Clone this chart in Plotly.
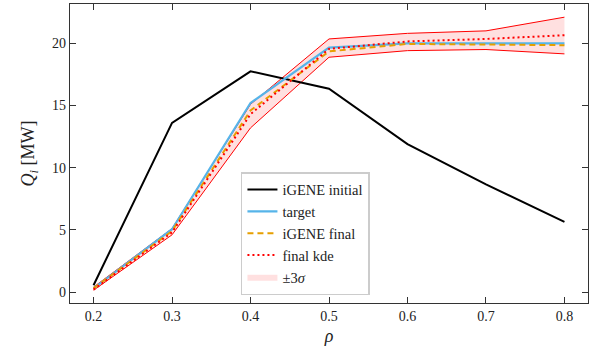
import plotly.graph_objects as go

rho = [0.2, 0.3, 0.4, 0.5, 0.6, 0.7, 0.8]
igene_initial = [0.55, 13.6, 17.75, 16.35, 11.9, 8.65, 5.65]
target = [0.3, 5.05, 15.2, 19.65, 20.0, 20.0, 20.0]
igene_final = [0.3, 4.9, 14.6, 19.35, 19.95, 19.9, 19.85]
final_kde = [0.2, 4.8, 14.3, 19.55, 20.15, 20.35, 20.65]
band_upper = [0.4, 5.1, 15.1, 20.35, 20.8, 21.0, 22.1]
band_lower = [0.15, 4.6, 13.2, 18.88, 19.41, 19.5, 19.15]

font_family = "Times New Roman, Liberation Serif, DejaVu Serif, serif"

fig = go.Figure()

# band fill
fig.add_trace(go.Scatter(
    x=rho + rho[::-1], y=band_upper + band_lower[::-1],
    fill="toself", fillcolor="rgba(255,0,0,0.12)",
    line=dict(width=0), mode="lines", name="±3<i>σ</i>",
    hoverinfo="skip", legendrank=5))
# band edges
for yy in (band_upper, band_lower):
    fig.add_trace(go.Scatter(x=rho, y=yy, mode="lines",
                             line=dict(color="red", width=1),
                             showlegend=False, hoverinfo="skip"))

fig.add_trace(go.Scatter(x=rho, y=igene_initial, mode="lines",
                         name="iGENE initial",
                         line=dict(color="black", width=2), legendrank=1))
fig.add_trace(go.Scatter(x=rho, y=target, mode="lines", name="target",
                         line=dict(color="#56B4E9", width=2.2), legendrank=2))
fig.add_trace(go.Scatter(x=rho, y=igene_final, mode="lines",
                         name="iGENE final",
                         line=dict(color="#E69F00", width=2, dash="6px,4px"),
                         legendrank=3))
fig.add_trace(go.Scatter(x=rho, y=final_kde, mode="lines", name="final kde",
                         line=dict(color="red", width=2, dash="2px,3px"),
                         legendrank=4))

axis_common = dict(
    showgrid=False, zeroline=False, ticks="inside", ticklen=6,
    tickwidth=1, tickcolor="#333", showline=True, linecolor="#333",
    linewidth=1.2, mirror="ticks",
    tickfont=dict(family=font_family, size=14, color="#222"),
)

fig.update_layout(
    width=609, height=360,
    margin=dict(l=70, r=21, t=4, b=57),
    plot_bgcolor="white", paper_bgcolor="white",
    font=dict(family=font_family, size=14, color="#222"),
    xaxis=dict(range=[0.17, 0.83], tickvals=[0.2, 0.3, 0.4, 0.5, 0.6, 0.7, 0.8],
               ticktext=["0.2", "0.3", "0.4", "0.5", "0.6", "0.7", "0.8"],
               title=dict(text="<i>ρ</i>", font=dict(size=18, family=font_family),
                          standoff=6),
               **axis_common),
    yaxis=dict(range=[-0.88, 23.16], tickvals=[0, 5, 10, 15, 20],
               title=dict(text="<i>Q</i><sub><i>i</i></sub> [MW]",
                          font=dict(size=18, family=font_family), standoff=12),
               **axis_common),
    legend=dict(x=0.33, y=0.438, xanchor="left", yanchor="top",
                bgcolor="rgba(255,255,255,0.85)", bordercolor="#cccccc",
                borderwidth=1.5, font=dict(family=font_family, size=14.5),
                tracegroupgap=0),
    showlegend=True,
)

fig.write_html("out.html")
